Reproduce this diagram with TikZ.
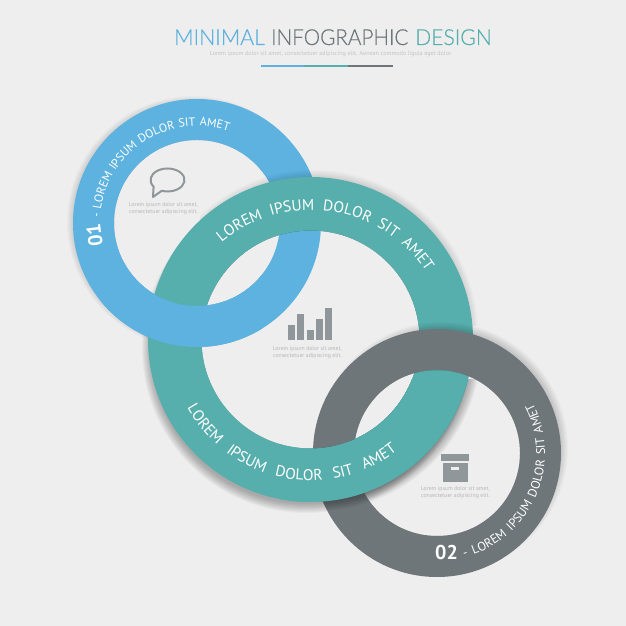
\documentclass[tikz,border=0pt]{standalone}
\usepackage{fontspec}
\usepackage{graphicx}
\usetikzlibrary{decorations.text}
\setmainfont{PT Sans}
\newfontfamily\titlefont[FakeBold=0.35]{Lato Light}
\definecolor{bgc}{HTML}{EEEEEE}
\definecolor{ringblue}{HTML}{5DB2E0}
\definecolor{ringteal}{HTML}{56AFAD}
\definecolor{ringgrey}{HTML}{6E7679}
\definecolor{icong}{HTML}{8F979A}
\definecolor{smallg}{HTML}{B4B6B7}
\definecolor{subg}{HTML}{C2C4C5}
\newcommand\bluering[1]{\fill[#1,even odd rule] (197,403) circle[radius=124] (197,403) circle[radius=83];}
\newcommand\tealring[1]{\fill[#1,even odd rule] (310.5,286.5) circle[radius=162.5] (310.5,286.5) circle[radius=109];}
\newcommand\greyring[1]{\fill[#1,even odd rule] (437,173) circle[radius=124] (437,173) circle[radius=83];}
% cx cy R r dx dy opacity
\newcommand\softshadow[7]{\foreach \sz in {0,1,...,9}{\fill[black,opacity=#7,even odd rule] (#1+#5,#2+#6) circle[radius=#3+\sz-7] (#1,#2) circle[radius=#4];}}
\newcommand\arctext[6]{\path[decorate,decoration={text along path,text align={fit to path stretching spaces},text={|\color{white}\fontsize{#6}{#6}\selectfont|#5}}] (#1) ++(#2:#3) arc[start angle=#2,end angle=#4,radius=#3];}
\tikzset{
  small/.style={text=smallg,font=\fontsize{5.75}{7}\selectfont,align=left,inner sep=0pt,anchor=center},
  ttl/.style={font=\titlefont\fontsize{22}{22}\selectfont,inner sep=0pt,anchor=base west},
  bar/.style={fill=icong,draw=none}
}
\begin{document}
\begin{tikzpicture}[x=1pt,y=1pt]
\useasboundingbox (0,0) rectangle (626,626);
\fill[bgc] (0,0) rectangle (626,626);
% title
\node[ttl,text=ringblue] (t1) at (174,581) {\scalebox{.97}[1]{MINIMAL}};
\node[ttl,text=ringgrey] (t2) at (271,581) {\scalebox{.94}[1]{INFOGRAPHIC}};
\node[ttl,text=ringteal] (t3) at (415,581) {\scalebox{.96}[1]{DESIGN}};
\node[text=subg,font=\fontsize{6.1}{7}\selectfont,inner sep=0pt] (sub) at (331,572.5) {Lorem ipsum dolor sit amet, consectetuer adipiscing elit. Aenean commodo ligula eget dolor.};
\fill[ringblue] (261,559) rectangle (304,561);
\fill[ringteal] (304,559) rectangle (348,561);
\fill[ringgrey] (348,559) rectangle (393,561);
% blue ring
\softshadow{197}{403}{124}{83}{-4}{1}{0.018}
\bluering{ringblue}
% teal ring, shadows
\softshadow{310.5}{286.5}{162.5}{109}{-4}{-9}{0.03}
\begin{scope}
\clip (200,300) rectangle (626,626);
\softshadow{310.5}{286.5}{162.5}{109}{3}{5}{0.016}
\end{scope}
\tealring{ringteal}
% blue over teal, lower left
\begin{scope}
\clip (100,266) rectangle (262,366);
\bluering{ringblue}
\end{scope}
% grey ring over teal
\softshadow{437}{173}{124}{83}{5}{5}{0.018}
\greyring{ringgrey}
% teal over grey, lower left
\begin{scope}
\clip (280,100) rectangle (500,246);
\begin{scope}
\clip (437,173) circle[radius=124];
\softshadow{310.5}{286.5}{162.5}{109}{6}{-7}{0.03}
\end{scope}
\tealring{ringteal}
\end{scope}
% ring text
\arctext{197,403}{177}{97}{71}{- LOREM IPSUM DOLOR SIT AMET}{12}
\node[rotate=96.7,text=white,font=\bfseries\fontsize{20}{20}\selectfont,inner sep=0pt] (n1) at (94.5,391) {01};
\arctext{311,278}{130.3}{138}{33.4}{LOREM IPSUM DOLOR SIT AMET}{15.5}
\arctext{310.5,286.5}{209}{141}{308}{LOREM IPSUM DOLOR SIT AMET}{15.5}
\arctext{437,173}{-75.5}{108}{27.5}{- LOREM IPSUM DOLOR SIT AMET}{12.5}
\node[text=white,font=\bfseries\fontsize{20}{20}\selectfont,inner sep=0pt] (n2) at (446.5,73.5) {02};
% small texts
\node[small] (s1) at (163.5,417) {Lorem ipsum dolor sit amet,\\consectetuer adipiscing elit.};
\node[small] (s2) at (307.5,273) {Lorem ipsum dolor sit amet,\\consectetuer adipiscing elit.};
\node[small] (s3) at (455.5,133.5) {Lorem ipsum dolor sit amet,\\consectetuer adipiscing elit.};
% speech bubble
\draw[icong,line width=2pt,line join=round] (153.6,439.4) arc[start angle=215,end angle=-110,x radius=17,y radius=11.5] -- (153,429) -- cycle;
% bars
\fill[bar] (288,286) rectangle (295,300.7);
\fill[bar] (297.3,286) rectangle (304.3,312);
\fill[bar] (306.7,286) rectangle (314,295.7);
\fill[bar] (316,286) rectangle (323,306.7);
\fill[bar] (325.3,286) rectangle (332.3,318);
% box
\fill[bar] (441,165.3) rectangle (469.3,172);
\fill[bar] (443.3,144.3) rectangle (467.7,163);
\fill[bgc] (451,156.3) rectangle (459,158.7);
\end{tikzpicture}
\end{document}
